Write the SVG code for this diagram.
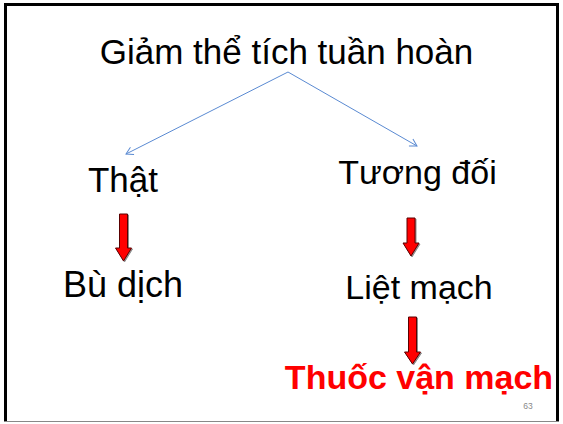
<svg xmlns="http://www.w3.org/2000/svg" width="563" height="424" viewBox="0 0 563 424">
  <style>
    .lbl { font-family: "Liberation Sans", Arial, sans-serif; fill: #000; text-anchor: middle; }
    .hot { font-family: "Liberation Sans", Arial, sans-serif; font-size: 34px; font-weight: bold; fill: #FF0000; text-anchor: middle; }
    .num { font-family: "Liberation Sans", Arial, sans-serif; font-size: 8.5px; fill: #888; text-anchor: middle; }
    .link { stroke: #5A8AD2; stroke-width: 1; fill: none; }
    .down { fill: #FF0000; stroke: #5A0000; stroke-width: 1; }
  </style>
  <defs>
    <marker id="open" markerWidth="10" markerHeight="10" refX="8" refY="5" orient="auto" markerUnits="userSpaceOnUse">
      <path d="M1,1 L8,5 L1,9" fill="none" stroke="#5A8AD2" stroke-width="1"/>
    </marker>
    <filter id="shade" x="-50%" y="-20%" width="200%" height="140%">
      <feDropShadow dx="1" dy="1" stdDeviation="0.6" flood-color="#000" flood-opacity="0.45"/>
    </filter>
  </defs>

  <rect x="0" y="0" width="563" height="424" fill="#fff"/>
  <!-- slide frame -->
  <path d="M5.5,421.5 L5.5,4.5 L557.5,4.5 L557.5,421.5" fill="none" stroke="#000" stroke-width="3"/>
  <line x1="5" y1="421.5" x2="558" y2="421.5" stroke="#888" stroke-width="1"/>

  <g id="root"><text class="lbl" x="286.5" y="64" font-size="35">Giảm thể tích tuần hoàn</text></g>
  <g id="that"><text class="lbl" x="123" y="192" font-size="35">Thật</text></g>
  <g id="budich"><text class="lbl" x="123" y="297" font-size="36">Bù dịch</text></g>
  <g id="tuongdoi"><text class="lbl" x="417.5" y="184" font-size="34">Tương đối</text></g>
  <g id="lietmach"><text class="lbl" x="419" y="299" font-size="34">Liệt mạch</text></g>
  <g id="thuoc"><text class="hot" x="419" y="389">Thuốc vận mạch</text></g>
  <g id="page"><text class="num" x="528" y="409">63</text></g>

  <g id="connectors">
    <line class="link" x1="288" y1="72" x2="126" y2="154" marker-end="url(#open)"/>
    <line class="link" x1="288" y1="72" x2="417" y2="146" marker-end="url(#open)"/>
    <g filter="url(#shade)">
      <path class="down" d="M119.5,214 L127.5,214 L127.5,248 L131.5,248 L123.5,261 L115.5,248 L119.5,248 Z"/>
      <path class="down" d="M407,218 L415,218 L415,243 L419,243 L411,256 L403,243 L407,243 Z"/>
      <path class="down" d="M408.5,317 L416.5,317 L416.5,352 L420.5,352 L412.5,364 L404.5,352 L408.5,352 Z"/>
    </g>
  </g>
</svg>
